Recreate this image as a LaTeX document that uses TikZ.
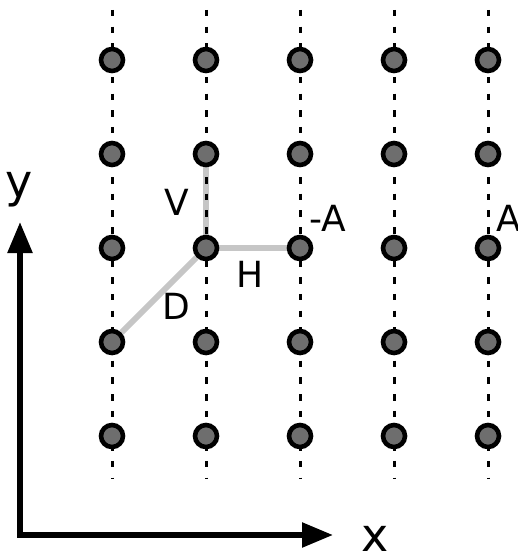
\documentclass[tikz,border=0pt]{standalone}
\usepackage{fontspec}
\setmainfont{DejaVu Sans}
\usetikzlibrary{arrows.meta,backgrounds}

\tikzset{
  site/.style={circle, draw=black, fill=sitegray, line width=4.6pt,
               minimum size=22pt, inner sep=0pt},
  column/.style={line width=3pt, dash pattern=on 6.5pt off 10.2pt},
  bond/.style={line width=6pt, draw=bondgray},
  axis/.style={line width=5.5pt, line join=miter,
               {Triangle[length=31pt,width=24pt]}-{Triangle[length=31pt,width=24pt]}},
  lbl/.style={inner sep=0pt, font=\fontsize{36}{36}\selectfont, anchor=base west},
  axlbl/.style={inner sep=0pt, font=\fontsize{46}{46}\selectfont, anchor=base west}
}
\definecolor{sitegray}{HTML}{6E6E6E}
\definecolor{bondgray}{HTML}{C6C6C6}

\begin{document}
\begin{tikzpicture}[x=1pt, y=-1pt]
  \useasboundingbox (0,0) rectangle (517,551);

  % lattice sites, columns 1..5 and rows 1..5
  \foreach \c/\xx in {1/112, 2/206, 3/300, 4/394, 5/488} {
    \foreach \r/\yy in {1/60, 2/154, 3/248, 4/342, 5/436} {
      \node[site] (s\c\r) at (\xx,\yy) {};
    }
    \coordinate (top\c) at (\xx,10);
    \coordinate (bot\c) at (\xx,478);
  }

  \begin{scope}[on background layer]
    % vertical, horizontal and diagonal bonds
    \draw[bond] (s22) -- (s23);
    \draw[bond] (s23) -- (s33);
    \draw[bond] (s14) -- (s23);
    % dashed column guides
    \foreach \c in {1,...,5} {
      \draw[column] (top\c) -- (bot\c);
    }
  \end{scope}

  % bond and site labels
  \node[lbl] (lv) at (164,215) {V};
  \node[lbl] (lh) at (236,287) {H};
  \node[lbl] (ld) at (162,319) {D};
  \node[lbl] (lma) at (309,231) {-A};
  \node[lbl] (la) at (496,231) {A};

  % coordinate axes
  \coordinate (ytip) at (20,222);
  \coordinate (origin) at (20,535);
  \coordinate (xtip) at (333,535);
  \draw[axis] (ytip) -- (origin) -- (xtip);
  \node[axlbl] (ly) at (5,197) {y};
  \node[axlbl] (lx) at (361,551) {x};
\end{tikzpicture}
\end{document}
